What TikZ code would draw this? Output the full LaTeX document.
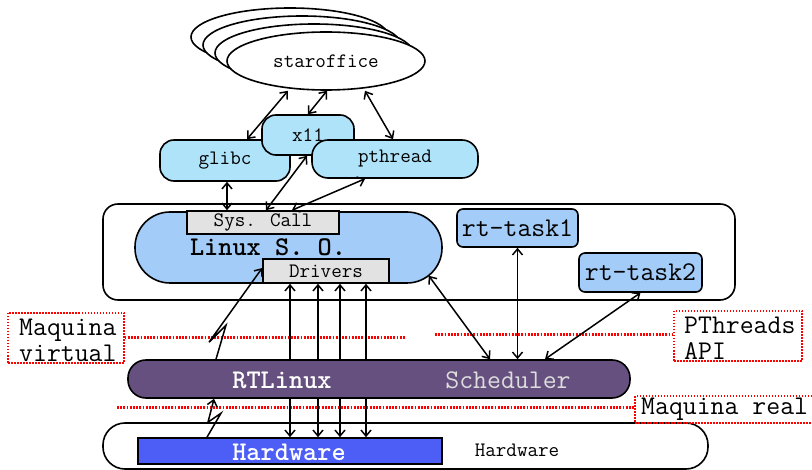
\documentclass[tikz,border=0pt]{standalone}
\usepackage{fontspec}
\usetikzlibrary{shapes.geometric,arrows.meta,calc}
\definecolor{cyanfill}{HTML}{AEE3FA}
\definecolor{blfill}{HTML}{A3CCF8}
\definecolor{grayfill}{HTML}{E2E2E2}
\definecolor{rtpurple}{HTML}{66507F}
\definecolor{hwblue}{HTML}{4C5EF6}
\definecolor{schedgray}{HTML}{DDDDDD}
\begin{document}
\begin{tikzpicture}[x=1pt,y=-1pt,
  >={Straight Barb[length=6pt,width=10pt]},
  tteighteen/.style={font=\ttfamily\fontsize{20.5}{22}\selectfont},
  ttbig/.style={font=\ttfamily\fontsize{27}{22}\selectfont},
  ttbigbold/.style={font=\ttfamily\bfseries\fontsize{27}{22}\selectfont},
  libbox/.style={draw, line width=1.6pt, fill=cyanfill, rounded corners=14pt, inner sep=0pt, tteighteen},
  ell/.style={ellipse, draw, line width=1.6pt, fill=white, minimum width=198pt, minimum height=58pt, inner sep=0pt},
  graybox/.style={draw, line width=1.6pt, fill=grayfill, inner sep=0pt, tteighteen},
  rtbox/.style={draw, line width=1.6pt, fill=blfill, rounded corners=6pt, inner sep=0pt, ttbig},
  redbox/.style={draw=red, line width=1.2pt, dash pattern=on 1.5pt off 1.5pt, inner sep=0pt},
  redline/.style={red, line width=3pt, dash pattern=on 1.8pt off 1.4pt},
  conn/.style={line width=1.5pt},
  frame/.style={draw, line width=1.6pt, inner sep=0pt}
]
\useasboundingbox (0,0) rectangle (812,470);

% staroffice stack
\node[ell] (so3) at (290,37) {};
\node[ell] (so2) at (302,45) {};
\node[ell] (so1) at (314,53) {};
\node[ell, tteighteen] (so) at (326,61) {staroffice};

% libraries
\node[libbox, minimum width=130pt, minimum height=41pt] (glibc) at (225,160.5) {glibc};
\node[libbox, minimum width=92pt, minimum height=40pt] (x11) at (308,135) {x11};
\node[libbox, minimum width=166pt, minimum height=38pt, rounded corners=16pt] (pthread) at (395,159) {pthread};

% Linux area
\node[frame, rounded corners=15pt, minimum width=632pt, minimum height=96pt] (lbox) at (419,252) {};
\node[frame, fill=blfill, rounded corners=35pt, minimum width=307pt, minimum height=71pt] (lso) at (288.5,247.5) {};
\node[ttbigbold] (lsotext) at (268,247) {Linux S. O.};
\node[graybox, minimum width=152pt, minimum height=23pt] (syscall) at (263,222.5) {Sys. Call};
\node[graybox, minimum width=126pt, minimum height=24pt] (drivers) at (326,271) {Drivers};
\node[rtbox, minimum width=121pt, minimum height=38pt] (rt1) at (517.5,228) {rt-task1};
\node[rtbox, minimum width=123pt, minimum height=39pt] (rt2) at (640.5,272.5) {rt-task2};

% RTLinux bar
\node[frame, fill=rtpurple, rounded corners=18pt, minimum width=502pt, minimum height=38pt] (rtl) at (379,379) {};
\node[ttbigbold, text=white] (rtltext) at (282,380) {RTLinux};
\node[ttbig, text=schedgray] (schedtext) at (508,380) {Scheduler};

% Hardware
\node[frame, rounded corners=22pt, minimum width=605pt, minimum height=46pt] (hwbox) at (405.5,446) {};
\node[frame, fill=hwblue, minimum width=304pt, minimum height=26pt] (hw) at (290,451) {};
\node[ttbigbold, text=white] (hwtext) at (289,452) {Hardware};
\node[tteighteen] (hwlabel) at (517,450) {Hardware};

% red annotations
\node[redbox, minimum width=116pt, minimum height=50pt] (mvbox) at (66,338) {};
\node[ttbig, anchor=west, inner sep=0pt] (mvtext1) at (19,330) {Maquina};
\node[ttbig, anchor=west, inner sep=0pt] (mvtext2) at (19,353) {virtual};
\node[redbox, minimum width=128pt, minimum height=50pt] (ptbox) at (738,336) {};
\node[ttbig, anchor=west, inner sep=0pt] (pttext1) at (684,325) {PThreads};
\node[ttbig, anchor=west, inner sep=0pt] (pttext2) at (684,351) {API};
\node[redbox, minimum width=195pt, minimum height=27pt] (mrbox) at (732.5,409.5) {};
\node[ttbig, anchor=west, inner sep=0pt] (mrtext) at (641,409) {Maquina real};
\draw[redline] (mvbox.east |- 0,338) -- (405,338);
\draw[redline] (435,335) -- (ptbox.west |- 0,335);
\draw[redline] (117,408) -- (mrbox.west |- 0,408);

% connectors
\draw[conn,<->] ([xshift=-38pt]so.south) -- ([xshift=22pt]glibc.north);
\draw[conn,<->] ([xshift=1pt]so.south) -- (x11.north);
\draw[conn,<->] ([xshift=39pt]so.south) -- ([xshift=-2pt]pthread.north);
\draw[conn,<->] ([xshift=2pt]glibc.south) -- ([xshift=-36pt]syscall.north);
\draw[conn,<->] ([xshift=-1pt]x11.south) -- ([xshift=3pt]syscall.north);
\draw[conn,<->] ([xshift=-30pt]pthread.south) -- ([xshift=29pt]syscall.north);

\draw[conn,->] ([xshift=-163pt]rtl.north) -- ++(10,-34) -- ++(-17,17) -- ([yshift=3pt]drivers.west);
\draw[conn,->] ([xshift=-83pt]hw.north) -- ++(14,-24) -- ++(-13,9) -- ([xshift=-165pt]rtl.south);

\foreach \i/\a/\b in {1/-89/-36, 2/-61/-8, 3/-39/14, 4/-13/40}{
  \draw[conn,->] ([xshift=\a pt]rtl.north) -- ([xshift=\b pt]drivers.south);
}
\foreach \i/\a/\b in {1/-89/0, 2/-61/28, 3/-39/50, 4/-13/76}{
  \draw[conn,->] ([xshift=\a pt]rtl.south) -- ([xshift=\b pt]hw.north);
}

\draw[conn,<->] ([shift={(-14pt,8pt)}]lso.south east) -- ([xshift=111pt]rtl.north);
\draw[conn,<->] (rt1.south) -- ([xshift=138.5pt]rtl.north);
\draw[conn,<->] (rt2.south) -- ([xshift=166pt]rtl.north);
\end{tikzpicture}
\end{document}
